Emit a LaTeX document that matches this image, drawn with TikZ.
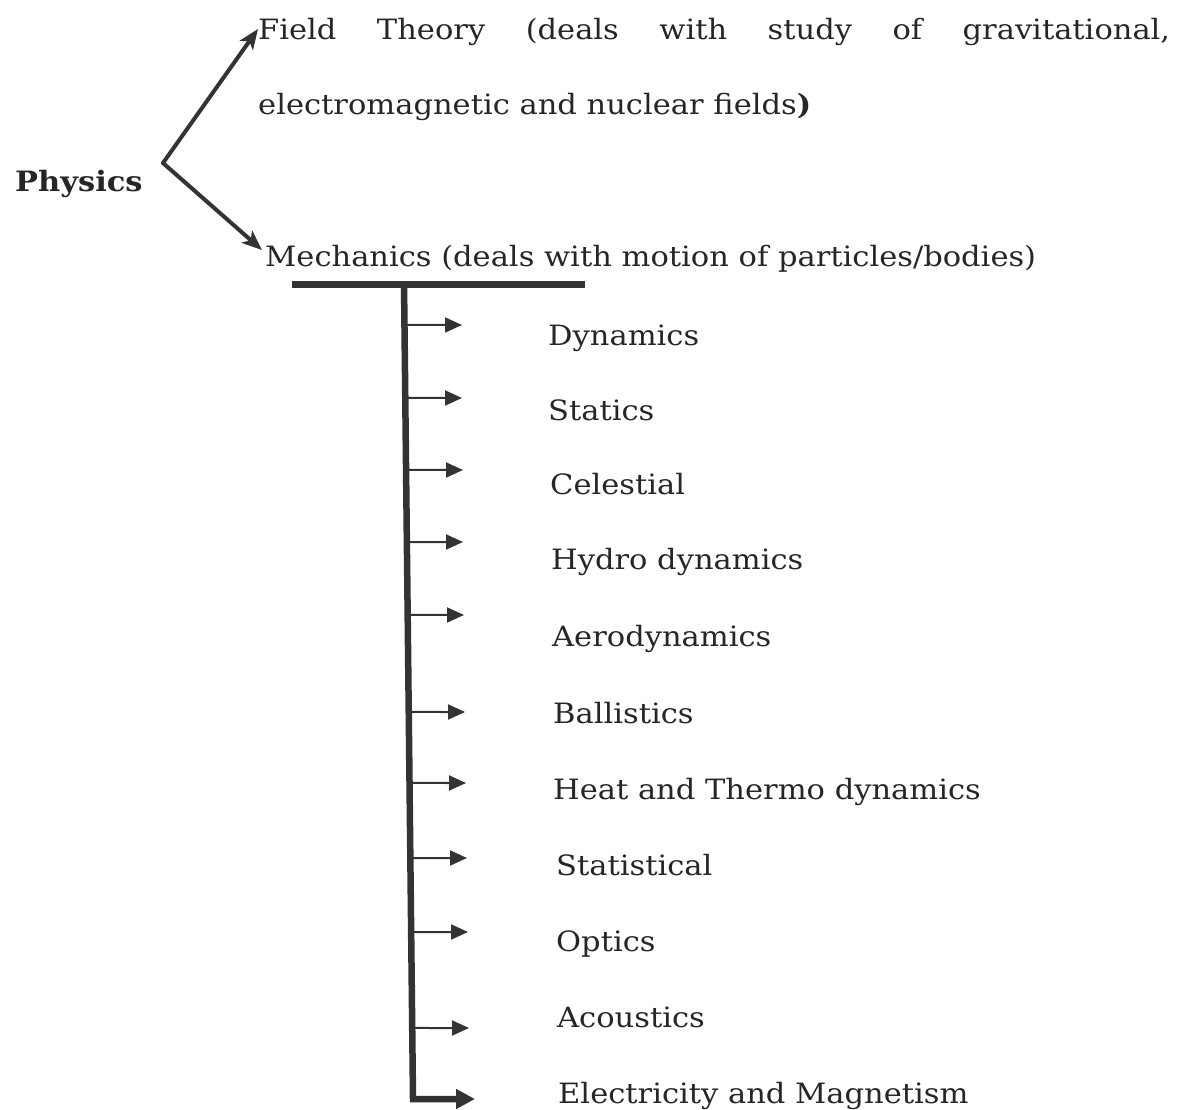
\documentclass[tikz,border=0pt]{standalone}
\usepackage{fontspec}
\setmainfont{DejaVu Serif}[FakeStretch=1.09]
\usetikzlibrary{arrows.meta,calc}
\definecolor{ink}{HTML}{262626}
\definecolor{stroke}{HTML}{333333}
\begin{document}
\begin{tikzpicture}[x=1pt,y=-1pt,
  lbl/.style={anchor=base west, inner sep=0pt, text=ink, font=\fontsize{28}{34}\selectfont},
  bigarrow/.style={draw=stroke, line width=4pt, line cap=round, -{Stealth[length=20pt,width=16pt,inset=5pt]}},
  branch/.style={draw=stroke, line width=2pt, -{Triangle[length=17pt,width=15pt]}},
  bar/.style={draw=stroke, line width=7pt}]
\useasboundingbox (0,0) rectangle (1179,1110);

% root and its two branches
\node[lbl, font=\fontsize{28}{34}\selectfont\bfseries] (physics) at (15,192) {Physics};
\coordinate (fork) at (163,163);
\node[lbl, text width=912pt, align=justify, font=\fontsize{28}{75}\selectfont] (field) at (258,40)
  {Field Theory (deals with study of gravitational,\linebreak electromagnetic and nuclear fields\textbf{)}};
\node[lbl] (mech) at (265,267) {Mechanics (deals with motion of particles/bodies)};
\coordinate (ftip) at (258,29);
\coordinate (mtip) at (262,250);
\draw[bigarrow] (fork) -- (ftip);
\draw[bigarrow] (fork) -- (mtip);

% underline bar and the main stem
\coordinate (barL) at (292,285);
\coordinate (barR) at (585,285);
\draw[bar] (barL) -- (barR);
\coordinate (vtop) at (404,282);
\coordinate (vbot) at (413,1099);
\coordinate (elec-tip) at (475,1099);
\node[lbl] (elec) at (558,1103) {Electricity and Magnetism};
\draw[draw=stroke, line width=6.5pt, line join=miter, -{Triangle[length=19pt,width=19pt]}]
  (vtop) -- (vbot) -- (elec-tip);

% branches of mechanics
\foreach \nm/\ya/\yb/\xt/\xe/\txt in {
  dyn/325/345/548/462/Dynamics,
  sta/398/420/548/462/Statics,
  cel/470/494/550/463/Celestial,
  hyd/542/569/551/463/Hydro dynamics,
  aer/615/646/552/464/Aerodynamics,
  bal/712/723/553/465/Ballistics,
  heat/783/799/553/466/Heat and Thermo dynamics,
  stat/858/875/556/467/Statistical,
  opt/932/951/556/468/Optics,
  aco/1028/1027/557/469/Acoustics}{
  \node[lbl] (\nm) at (\xt,\yb) {\txt};
  \coordinate (\nm-tip) at (\xe,\ya);
  \draw[branch] ($(vtop)!{(\ya-282)/817}!(vbot)$) -- (\nm-tip);
}
\end{tikzpicture}
\end{document}
